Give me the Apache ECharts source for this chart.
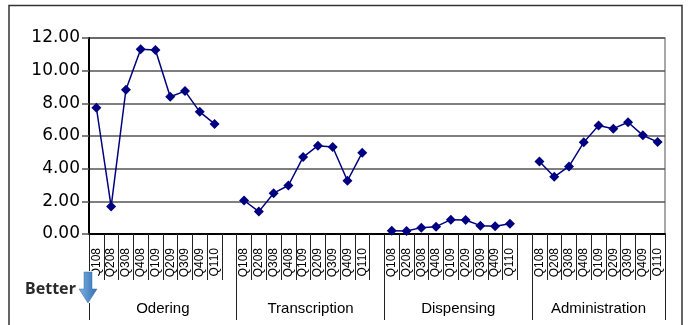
<!DOCTYPE html>
<html>
<head>
<meta charset="utf-8">
<script src="https://cdn.jsdelivr.net/npm/echarts@6/dist/echarts.min.js"></script>
<style>
html,body{margin:0;padding:0;background:#fff;}
#chart{width:688px;height:325px;}
</style>
</head>
<body>
<div id="chart"></div>
<script>
const quarters = ['Q108','Q208','Q308','Q408','Q109','Q209','Q309','Q409','Q110'];
const groups = ['Odering','Transcription','Dispensing','Administration'];
const odering = [7.73, 1.68, 8.83, 11.31, 11.27, 8.40, 8.75, 7.48, 6.74];
const transcription = [2.05, 1.37, 2.50, 2.97, 4.71, 5.41, 5.33, 3.26, 4.98];
const dispensing = [0.20, 0.18, 0.39, 0.45, 0.88, 0.86, 0.51, 0.47, 0.63];
const administration = [4.44, 3.50, 4.14, 5.61, 6.64, 6.45, 6.84, 6.04, 5.63];
const yMin = 0, yMax = 12, yStep = 2;

const groupValues = [odering, transcription, dispensing, administration];
const categories = [];
const values = [];
groupValues.forEach((vals, gi) => {
  quarters.forEach((q, qi) => { categories.push(q); values.push(vals[qi]); });
  if (gi < groupValues.length - 1) { categories.push(''); values.push(null); }
});

// second level axis: half-slot resolution, labels at group centres
const halfCount = categories.length * 2 + 1;
const groupAxis = new Array(halfCount).fill('');
const sepIdx = [];
let pos = 0;
groupValues.forEach((vals, gi) => {
  const slots = quarters.length + (gi < groupValues.length - 1 ? 1 : 0);
  sepIdx.push(pos * 2);
  groupAxis[pos * 2 + slots] = groups[gi];
  pos += slots;
});
sepIdx.push(pos * 2);

const chart = echarts.init(document.getElementById('chart'));
chart.setOption({
  animation: false,
  grid: { left: 89, right: 23, top: 38, bottom: 91, show: true, borderColor: '#8a8a8a', borderWidth: 1.5 },
  xAxis: [
    {
      type: 'category',
      data: categories,
      boundaryGap: true,
      axisLine: { show: true, lineStyle: { color: '#000', width: 2 } },
      axisTick: { show: true, interval: 0, length: 46, lineStyle: { color: '#222', width: 1 } },
      axisLabel: { interval: 0, rotate: 90, margin: 14, fontFamily: 'Liberation Sans', fontSize: 12, color: '#000' },
      splitLine: { show: false }
    },
    {
      type: 'category',
      data: groupAxis,
      boundaryGap: false,
      position: 'bottom',
      axisLine: { show: false },
      axisTick: { show: true, length: 86, interval: (i) => sepIdx.includes(i), lineStyle: { color: '#222', width: 1 } },
      axisLabel: { interval: 0, margin: 67, fontFamily: 'Liberation Sans', fontSize: 15, color: '#000' },
      splitLine: { show: false }
    }
  ],
  yAxis: {
    type: 'value',
    min: yMin, max: yMax, interval: yStep,
    axisLine: { show: true, lineStyle: { color: '#000', width: 2 } },
    axisTick: { show: true, length: 7, lineStyle: { color: '#555', width: 1.5 } },
    axisLabel: { margin: 9, fontFamily: 'DejaVu Sans', fontSize: 17, color: '#000', formatter: v => v.toFixed(2) },
    splitLine: { show: true, lineStyle: { color: '#555', width: 1.5 } }
  },
  series: [{
    type: 'line',
    data: values,
    connectNulls: false,
    symbol: 'diamond',
    symbolSize: 10,
    lineStyle: { color: '#000080', width: 1.5 },
    itemStyle: { color: '#000080' },
    z: 5
  }],
  graphic: [
    { type: 'rect', z: 100, shape: { x: 9, y: 5.5, width: 673, height: 330 }, style: { fill: 'none', stroke: '#333', lineWidth: 1.5 } },
    { type: 'rect', z: 100, shape: { x: 20, y: 271, width: 78, height: 32 }, style: { fill: '#fff' } },
    { type: 'text', z: 101, x: 25, y: 289, style: { text: 'Better', fontFamily: 'Noto Sans', fontWeight: 'bold', fontSize: 16, fill: '#2a2a2a', verticalAlign: 'middle' } },
    { type: 'polygon', z: 101, shape: { points: [[84,272],[92,272],[92,289],[97,289],[88,303],[79,289],[84,289]] },
      style: { fill: new echarts.graphic.LinearGradient(0,0,1,0,[{offset:0,color:'#7fb0e0'},{offset:1,color:'#2f6fb5'}]), stroke: '#3a6ea8', lineWidth: 0.5 } }
  ]
});
</script>
</body>
</html>
